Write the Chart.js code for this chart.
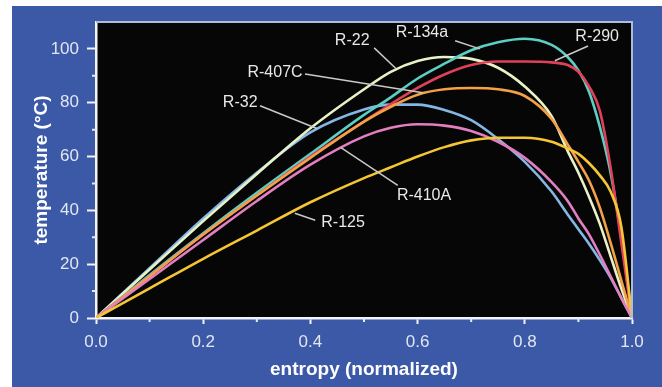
<!DOCTYPE html>
<html>
<head>
<meta charset="utf-8">
<script src="https://cdn.jsdelivr.net/npm/chart.js@4/dist/chart.umd.min.js"></script>
<style>
  html, body { margin: 0; padding: 0; background: #fff; }
  #wrap { width: 662px; height: 387px; position: relative; }
</style>
</head>
<body>
<div id="wrap"><canvas id="chart" width="662" height="387"></canvas></div>
<script>
// Refrigerant saturation domes, temperature vs normalized entropy
const entropy = [0, 0.1, 0.2, 0.3, 0.4, 0.5, 0.55, 0.6, 0.65, 0.7, 0.75, 0.8, 0.85, 0.88, 0.9, 0.92, 0.94, 0.96, 0.98, 1.0];

const r22   = [0, 18, 36, 53.5, 70.5, 85, 91.5, 95.5, 97, 96.3, 93, 86, 75, 62, 54, 45, 35, 23, 11, 0];
const r32   = [0, 18.5, 37, 54, 69, 77.5, 79.3, 79.3, 77.3, 73.5, 66.5, 58, 47, 38.5, 33, 27.5, 21.5, 15, 7.5, 0];
const r134a = [0, 16, 31.5, 46.5, 61, 75.5, 82, 89, 94.5, 99.5, 102.5, 103.8, 101.5, 97, 92, 84, 71, 54, 30, 0];
const r290  = [0, 15.5, 31, 45.5, 60, 73, 79.5, 85.5, 90.5, 94, 95.3, 95.3, 95, 94, 91.5, 86, 77, 56, 28, 0];
const r407c = [0, 15.5, 31, 45.5, 59.5, 73, 78.5, 83, 85, 85.5, 85, 82.5, 74, 64.5, 58, 51, 41, 28, 14, 0];
const r410a = [0, 14.5, 29, 43.5, 57, 67.5, 70.7, 72, 71.5, 69.5, 65.5, 59.5, 50.5, 43.5, 37, 31, 23.5, 15.5, 7.5, 0];
const r125  = [0, 11, 22, 32.5, 43, 52, 56, 60, 63.5, 66, 67, 67, 65.5, 63, 61, 57.5, 53, 47, 34, 0];

const seriesNames = ["R-125", "R-410A", "R-407C", "R-290", "R-134a", "R-22", "R-32"];
const seriesValues = [r125, r410a, r407c, r290, r134a, r22, r32];
const seriesColors = ["#f4c535", "#e27fc0", "#f3a047", "#e0405a", "#5ccfc4", "#e9f2c6", "#85b7e6"];

const xTicks = [0, 0.2, 0.4, 0.6, 0.8, 1.0];
const yTicks = [0, 20, 40, 60, 80, 100];

// label text, label centre, leader start, leader end (data units)
const callouts = [
  { text: "R-22",   at: [0.478, 103],  from: [0.519, 100.4], to: [0.56, 92.6] },
  { text: "R-134a", at: [0.608, 105.9], from: [0.67, 103],   to: [0.716, 100] },
  { text: "R-290",  at: [0.935, 104.4], from: [0.918, 101.1], to: [0.856, 95.6] },
  { text: "R-407C", at: [0.334, 91.1], from: [0.39, 90.7],   to: [0.61, 83.7] },
  { text: "R-32",   at: [0.269, 80],   from: [0.306, 78.9],  to: [0.412, 70.4] },
  { text: "R-410A", at: [0.612, 45.6], from: [0.563, 49.3],  to: [0.457, 63.3] },
  { text: "R-125",  at: [0.461, 35.6], from: [0.409, 36.3],  to: [0.371, 38.9] }
];

const FONT = "'Liberation Sans', Arial, Helvetica, sans-serif";
const BLUE = "#3b59a6";

const backdrop = {
  id: "backdrop",
  beforeDraw(chart) {
    const { ctx, chartArea: a } = chart;
    ctx.save();
    ctx.fillStyle = "#ffffff";
    ctx.fillRect(0, 0, chart.width, chart.height);
    ctx.fillStyle = BLUE;
    ctx.fillRect(12, 6, chart.width - 12, chart.height - 6);
    ctx.fillStyle = "#060606";
    ctx.fillRect(a.left, a.top, a.right - a.left, a.bottom - a.top);
    ctx.restore();
  },
  afterDraw(chart) {
    const { ctx, chartArea: a, scales } = chart;
    ctx.save();
    // light frame on top and right
    ctx.strokeStyle = "#aebbd9";
    ctx.lineWidth = 2;
    ctx.beginPath();
    ctx.moveTo(a.left, a.top);
    ctx.lineTo(a.right, a.top);
    ctx.lineTo(a.right, a.bottom);
    ctx.stroke();
    // minor ticks
    ctx.strokeStyle = "#e6eaf2";
    ctx.lineWidth = 2;
    ctx.beginPath();
    for (let v = 0.1; v < 1; v += 0.2) {
      const px = scales.x.getPixelForValue(v);
      ctx.moveTo(px, a.bottom);
      ctx.lineTo(px, a.bottom + 4);
    }
    for (let v = 10; v < 110; v += 20) {
      const py = scales.y.getPixelForValue(v);
      ctx.moveTo(a.left, py);
      ctx.lineTo(a.left - 4, py);
    }
    ctx.stroke();
    ctx.restore();
  },
  afterDatasetsDraw(chart) {
    const { ctx, scales } = chart;
    const X = v => scales.x.getPixelForValue(v);
    const Y = v => scales.y.getPixelForValue(v);
    ctx.save();
    ctx.strokeStyle = "#c9c9c9";
    ctx.lineWidth = 1.5;
    callouts.forEach(c => {
      ctx.beginPath();
      ctx.moveTo(X(c.from[0]), Y(c.from[1]));
      ctx.lineTo(X(c.to[0]), Y(c.to[1]));
      ctx.stroke();
    });
    ctx.fillStyle = "#e8e8e8";
    ctx.font = "16px " + FONT;
    ctx.textAlign = "center";
    ctx.textBaseline = "middle";
    callouts.forEach(c => ctx.fillText(c.text, X(c.at[0]), Y(c.at[1])));
    ctx.restore();
  }
};

new Chart(document.getElementById("chart"), {
  type: "scatter",
  data: {
    datasets: seriesNames.map((name, i) => ({
      label: name,
      data: entropy.map((x, j) => ({ x, y: seriesValues[i][j] })),
      showLine: true,
      borderColor: seriesColors[i],
      backgroundColor: seriesColors[i],
      borderWidth: 2.6,
      pointRadius: 0,
      cubicInterpolationMode: "monotone"
    }))
  },
  options: {
    responsive: false,
    animation: false,
    events: [],
    layout: { padding: { top: 22, right: 30, left: 0, bottom: 0 } },
    plugins: { legend: { display: false }, tooltip: { enabled: false } },
    scales: {
      x: {
        type: "linear", min: 0, max: 1,
        afterFit: s => { s.height = 69; },
        afterBuildTicks: s => { s.ticks = xTicks.map(v => ({ value: v })); },
        ticks: {
          color: "#e2e6f0", font: { family: FONT, size: 17 }, padding: 8,
          callback: v => Number(v).toFixed(1)
        },
        grid: { drawOnChartArea: false, tickLength: 6, tickColor: "#f2f4f8", tickWidth: 2 },
        border: { color: "#f2f4f8", width: 2.5 },
        title: {
          display: true, text: "entropy (normalized)", color: "#ffffff",
          font: { family: FONT, size: 19, weight: "bold" }, padding: { top: 0, bottom: 6 }
        }
      },
      y: {
        type: "linear", min: 0, max: 110,
        afterFit: s => { s.width = 96; },
        afterBuildTicks: s => { s.ticks = yTicks.map(v => ({ value: v })); },
        ticks: {
          color: "#e2e6f0", font: { family: FONT, size: 17 }, padding: 8
        },
        grid: { drawOnChartArea: false, tickLength: 9, tickColor: "#f2f4f8", tickWidth: 2 },
        border: { color: "#f2f4f8", width: 2.5 },
        title: {
          display: true, text: "temperature (°C)", color: "#ffffff",
          font: { family: FONT, size: 19, weight: "bold" }, padding: { top: 30, bottom: 0 }
        }
      }
    }
  },
  plugins: [backdrop]
});
</script>
</body>
</html>
